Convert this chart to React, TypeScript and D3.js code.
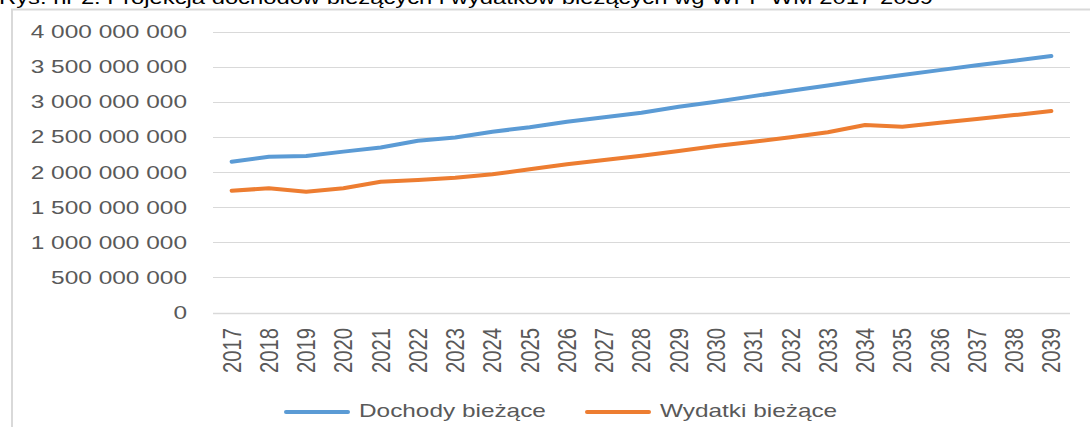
import React from "react";
import * as d3 from "d3";

const years = ["2017","2018","2019","2020","2021","2022","2023","2024","2025","2026","2027","2028","2029","2030","2031","2032","2033","2034","2035","2036","2037","2038","2039"];
const dochody = [2.147e9,2.218e9,2.228e9,2.29e9,2.35e9,2.445e9,2.49e9,2.574e9,2.636e9,2.716e9,2.778e9,2.844e9,2.93e9,3.0e9,3.08e9,3.157e9,3.23e9,3.31e9,3.38e9,3.45e9,3.52e9,3.585e9,3.65e9];
const wydatki = [1.734e9,1.768e9,1.72e9,1.768e9,1.862e9,1.886e9,1.919e9,1.967e9,2.038e9,2.11e9,2.17e9,2.232e9,2.3e9,2.37e9,2.43e9,2.494e9,2.565e9,2.67e9,2.645e9,2.70e9,2.755e9,2.81e9,2.868e9];
const yTicks = [0,5e8,1e9,1.5e9,2e9,2.5e9,3e9,3.5e9,4e9];
const seriesNames = ["Dochody bieżące","Wydatki bieżące"];
const colors = ["#5B9BD5","#ED7D31"];
const title = "Rys. nr 2. Projekcja dochodów bieżących i wydatków bieżących wg WPF WM 2017-2039";

const W = 1090, H = 427;
const SX = 1.3;
const FONT = "'Liberation Sans', Arial, sans-serif";

function fmt(v: number) {
  if (v === 0) return "0";
  const s = Math.round(v).toString();
  return s.replace(/\B(?=(\d{3})+(?!\d))/g, " ");
}

export default function App() {
  const x = d3.scaleBand<string>().domain(years).range([213, 1070]);
  const y = d3.scaleLinear().domain([0, 4e9]).range([312.5, 31.5]);
  const cx = (yr: string) => (x(yr) as number) + x.bandwidth() / 2;
  const line = d3.line<number>().x((_, i) => cx(years[i])).y(d => y(d));
  const legendX = [286, 587];
  return (
    <svg width={W} height={H} style={{ position: "absolute", left: 0, top: 0, background: "#fff" }}>
      <rect x={0} y={0} width={W} height={H} fill="#fff" />
      <text x={-1} y={4} fontFamily={FONT} fontSize={18} fill="#000" textLength={934} lengthAdjust="spacingAndGlyphs">{title}</text>
      <rect x={12} y={9.5} width={W + 20} height={H + 20} fill="none" stroke="#D9D9D9" strokeWidth={2} />
      {yTicks.map(t => (
        <g key={t}>
          <line x1={213} x2={1070} y1={Math.round(y(t)) + 0.5} y2={Math.round(y(t)) + 0.5} stroke="#D9D9D9" strokeWidth={t === 0 ? 1.5 : 1.2} />
          <text transform={`translate(187,${y(t) + 6.5}) scale(${SX},1)`} textAnchor="end" fontFamily={FONT} fontSize={18.8} fill="#595959">{fmt(t)}</text>
        </g>
      ))}
      {years.map(yr => (
        <text key={yr} transform={`translate(${cx(yr)},328) scale(${SX},1) rotate(-90)`} textAnchor="end" dominantBaseline="central" fontFamily={FONT} fontSize={20.2} fill="#595959">{yr}</text>
      ))}
      {[dochody, wydatki].map((s, i) => (
        <path key={i} d={line(s) as string} fill="none" stroke={colors[i]} strokeWidth={4} strokeLinecap="round" strokeLinejoin="round" />
      ))}
      {seriesNames.map((n, i) => (
        <g key={n}>
          <line x1={legendX[i]} x2={legendX[i] + 62} y1={412} y2={412} stroke={colors[i]} strokeWidth={4} strokeLinecap="round" />
          <text transform={`translate(${legendX[i] + 73},417) scale(${SX},1)`} fontFamily={FONT} fontSize={18.75} fill="#595959">{n}</text>
        </g>
      ))}
    </svg>
  );
}
